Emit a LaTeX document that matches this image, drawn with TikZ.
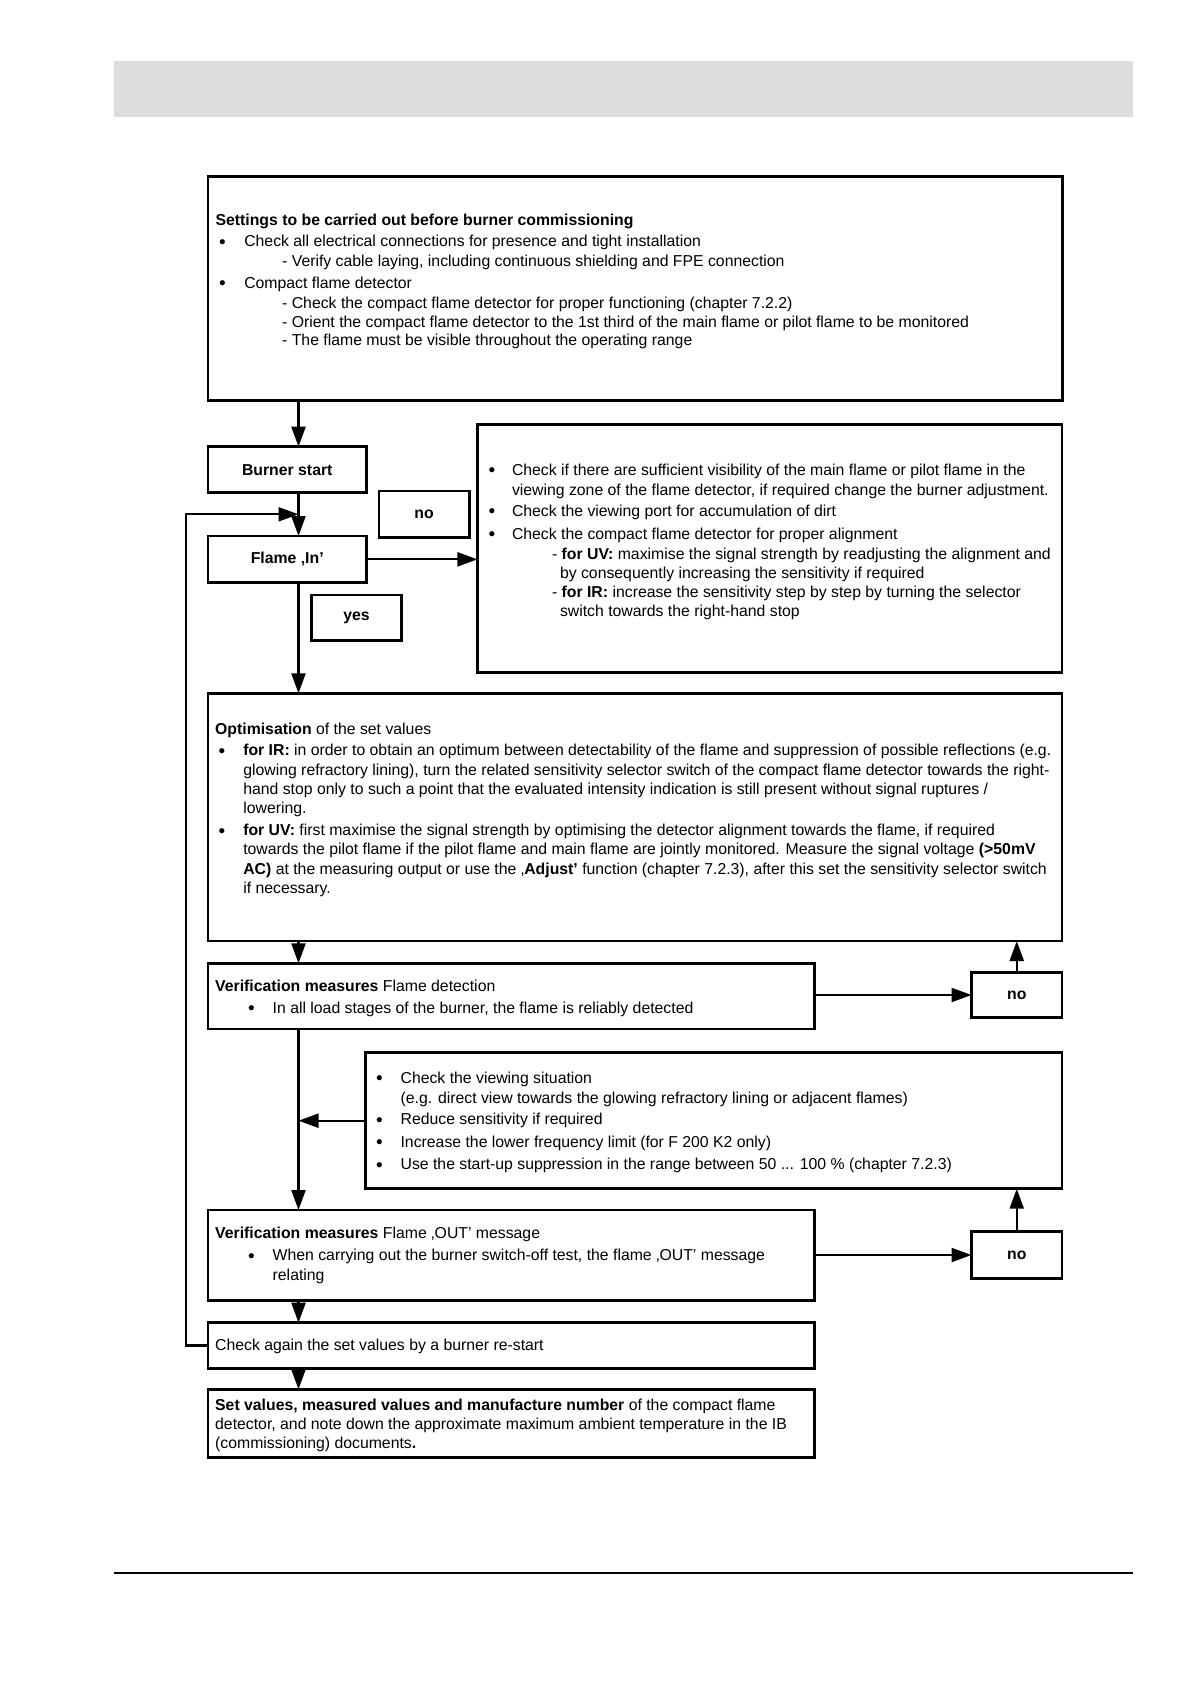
\documentclass[tikz,border=0pt]{standalone}
\usepackage{fontspec}
\setmainfont{Liberation Sans}
\usetikzlibrary{arrows.meta}
\definecolor{headgrey}{RGB}{221,221,221}
\tikzset{
  box/.style={draw, line width=2.6pt, outer sep=0pt, inner sep=0pt, anchor=north west, fill=white, font=\bfseries},
  arr/.style={line width=2.2pt, -{Triangle[length=20pt,width=14pt]}},
  txt/.style={anchor=base west, inner sep=0pt, outer sep=0pt, yshift=-1pt},
  bult/.style={anchor=base west, inner sep=0pt, outer sep=0pt, yshift=-2.5pt, font=\fontsize{19}{20}\selectfont},
}
\newcommand\tline[4]{\node[txt] (#1) at (#2,#3) {#4};}
\newcommand\bul[3]{\node[bult] (#1) at (#2,#3) {•};}
\begin{document}
\begin{tikzpicture}[x=1pt,y=-1pt]
\useasboundingbox (0,0) rectangle (1190,1684);
\fontsize{15.8}{20}\selectfont
% header band and footer rule
\fill[headgrey] (114,61) rectangle (1133,117);
\draw[line width=2pt] (114,1572.7) -- (1133,1572.7);

% boxes
\node[box, minimum width=854.4pt, minimum height=224pt] (top) at (208,176.7) {};
\node[box, minimum width=158.5pt, minimum height=46pt] (burner) at (208,446.7) {Burner start};
\node[box, minimum width=90.2pt, minimum height=46.7pt] (no0) at (379,491) {no};
\node[box, minimum width=158.5pt, minimum height=46.7pt] (flame) at (208,536) {Flame ‚In’};
\node[box, minimum width=90.3pt, minimum height=45.7pt] (yes) at (311.4,595) {yes};
\node[box, minimum width=584.6pt, minimum height=248.4pt] (right) at (477.4,424.3) {};
\node[box, minimum width=854pt, minimum height=247.7pt] (opt) at (208,693.3) {};
\node[box, minimum width=606.2pt, minimum height=65.7pt] (ver1) at (208,963.3) {};
\node[box, minimum width=90.5pt, minimum height=45.4pt] (no1) at (971.5,972.3) {no};
\node[box, minimum width=696.6pt, minimum height=136pt] (chk) at (365.4,1052.7) {};
\node[box, minimum width=606.2pt, minimum height=90.7pt] (ver2) at (208,1210) {};
\node[box, minimum width=90.5pt, minimum height=46.6pt] (no2) at (971.5,1231.7) {no};
\node[box, minimum width=606.2pt, minimum height=45.6pt] (again) at (208,1322.7) {};
\node[box, minimum width=606.2pt, minimum height=68.4pt] (final) at (208,1389.3) {};

% connectors
\coordinate (mx) at (298.5,0);
\coordinate (fb) at (185.8,514.3);
\draw[arr] (top.south -| mx) -- (burner.north -| mx);
\draw[arr] (burner.south -| mx) -- (flame.north -| mx);
\draw[arr] (flame.south -| mx) -- (opt.north -| mx);
\draw[arr] (opt.south -| mx) -- (ver1.north -| mx);
\draw[arr] (ver1.south -| mx) -- (ver2.north -| mx);
\draw[arr] (ver2.south -| mx) -- (again.north -| mx);
\draw[arr] (again.south -| mx) -- (final.north -| mx);
\draw[arr] (flame.east) -- (right.west |- flame.east);
\draw[arr] (ver1.east |- no1.west) -- (no1.west);
\draw[arr] (no1.north) -- (opt.south -| no1.north);
\draw[arr] (ver2.east |- no2.west) -- (no2.west);
\draw[arr] (no2.north) -- (chk.south -| no2.north);
\draw[arr] (chk.west) -- (chk.west -| mx);
\draw[arr] (again.west) -- (again.west -| fb) -- (fb) -- (fb -| mx);

% top box text
\tline{t1}{215.6}{224.5}{\textbf{Settings to be carried out before burner commissioning}}
\bul{tb1}{219}{245.5}
\tline{t2}{244.3}{245.5}{Check all electrical connections for presence and tight installation}
\tline{t3}{282.2}{265.5}{- Verify cable laying, including continuous shielding and FPE connection}
\bul{tb2}{219}{287}
\tline{t4}{244.3}{287}{Compact flame detector}
\tline{t5}{282.2}{307}{- Check the compact flame detector for proper functioning (chapter 7.2.2)}
\tline{t6}{282.2}{326}{- Orient the compact flame detector to the 1st third of the main flame or pilot flame to be monitored}
\tline{t7}{282.2}{344.5}{- The flame must be visible throughout the operating range}

% right box text
\bul{rb1}{488.6}{474}
\tline{r1}{512}{474}{Check if there are sufficient visibility of the main flame or pilot flame in the}
\tline{r2}{512}{494}{viewing zone of the flame detector, if required change the burner adjustment.}
\bul{rb2}{488.6}{515}
\tline{r3}{512}{515}{Check the viewing port for accumulation of dirt}
\bul{rb3}{488.6}{538}
\tline{r4}{512}{538}{Check the compact flame detector for proper alignment}
\tline{r5}{552}{558.5}{- \textbf{for UV:} maximise the signal strength by readjusting the alignment and}
\tline{r6}{560}{577.5}{by consequently increasing the sensitivity if required}
\tline{r7}{552}{596}{- \textbf{for IR:} increase the sensitivity step by step by turning the selector}
\tline{r8}{560}{615}{switch towards the right-hand stop}

% optimisation box text
\tline{o1}{215.2}{733}{\textbf{Optimisation} of the set values}
\bul{ob1}{218.7}{754.5}
\tline{o2}{243.3}{754.5}{\textbf{for IR:} in order to obtain an optimum between detectability of the flame and suppression of possible reflections (e.g.}
\tline{o3}{243.3}{774}{glowing refractory lining), turn the related sensitivity selector switch of the compact flame detector towards the right-}
\tline{o4}{243.3}{793}{hand stop only to such a point that the evaluated intensity indication is still present without signal ruptures /}
\tline{o5}{243.3}{812}{lowering.}
\bul{ob2}{218.7}{834.5}
\tline{o6}{243.3}{834.5}{\textbf{for UV:} first maximise the signal strength by optimising the detector alignment towards the flame, if required}
\tline{o7}{243.3}{853.5}{towards the pilot flame if the pilot flame and main flame are jointly monitored. Measure the signal voltage \textbf{(>50mV}}
\tline{o8}{243.3}{873}{\textbf{AC)} at the measuring output or use the ‚\textbf{Adjust’} function (chapter 7.2.3), after this set the sensitivity selector switch}
\tline{o9}{243.3}{892}{if necessary.}

% verification 1
\tline{v1}{215.2}{990}{\textbf{Verification measures} Flame detection}
\bul{vb1}{248}{1012}
\tline{v2}{272.7}{1012}{In all load stages of the burner, the flame is reliably detected}

% check box
\bul{cb1}{376}{1082}
\tline{c1}{400.6}{1082}{Check the viewing situation}
\tline{c2}{400.6}{1102}{(e.g. direct view towards the glowing refractory lining or adjacent flames)}
\bul{cb2}{376}{1123.5}
\tline{c3}{400.6}{1123.5}{Reduce sensitivity if required}
\bul{cb3}{376}{1146}
\tline{c4}{400.6}{1146}{Increase the lower frequency limit (for F 200 K2 only)}
\bul{cb4}{376}{1168.5}
\tline{c5}{400.6}{1168.5}{Use the start-up suppression in the range between 50 ... 100 \% (chapter 7.2.3)}

% verification 2
\tline{w1}{215.2}{1237}{\textbf{Verification measures} Flame ‚OUT’ message}
\bul{wb1}{248}{1259.5}
\tline{w2}{272.7}{1259.5}{When carrying out the burner switch-off test, the flame ‚OUT’ message}
\tline{w3}{272.7}{1279.5}{relating}

% check again
\tline{a1}{215.2}{1349.5}{Check again the set values by a burner re-start}

% final
\tline{f1}{215.2}{1409}{\textbf{Set values, measured values and manufacture number} of the compact flame}
\tline{f2}{215.2}{1428}{detector, and note down the approximate maximum ambient temperature in the IB}
\tline{f3}{215.2}{1447}{(commissioning) documents\textbf{.}}
\end{tikzpicture}
\end{document}
